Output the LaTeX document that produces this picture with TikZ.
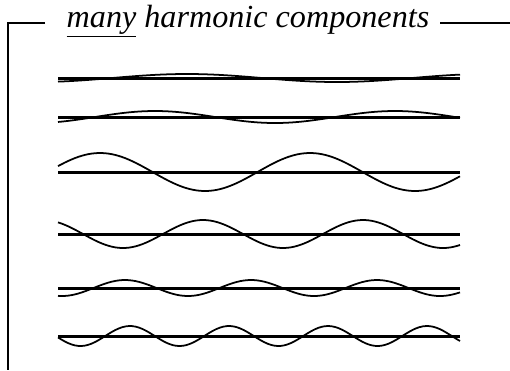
\documentclass[tikz,border=0pt]{standalone}
\usepackage{fontspec}
\setmainfont{Liberation Serif}
\usepackage{tikz}

\begin{document}
\begin{tikzpicture}[
    x=0.02cm, y=-0.02cm,
    title/.style={font=\fontsize{18.3}{22}\selectfont\itshape, inner sep=0pt, anchor=base},
    frame/.style={draw, line width=1.1pt},
    base/.style={draw, line width=1.7pt},
    wave/.style={draw, line width=1.0pt, smooth, samples=120, domain=58:460}
]
    \useasboundingbox (0,0) rectangle (510,370);

    % Top: title with bracket
    \node[title] (title) at (248, 27) {\underline{many} harmonic components};

    \coordinate (tl) at (45, 23);
    \coordinate (tc) at (8, 23);
    \coordinate (bc) at (8, 370);
    \coordinate (tr) at (440, 23);
    \coordinate (te) at (510, 23);

    \draw[frame] (tl) -- (tc) -- (bc);
    \draw[frame] (tr) -- (te);

    % Components, lowest harmonic first
    \draw[base] (58, 78) -- (460, 78);
    \draw[wave] plot (\x, {78 - 4*cos((\x-187)*1.2)});

    \draw[base] (58, 117) -- (460, 117);
    \draw[wave] plot (\x, {117 - 6*cos((\x-155)*1.5)});

    \draw[base] (58, 172) -- (460, 172);
    \draw[wave] plot (\x, {172 - 19*cos((\x-100)*1.714)});

    \draw[base] (58, 234) -- (460, 234);
    \draw[wave] plot (\x, {234 - 14*cos((\x-203)*2.25)});

    \draw[base] (58, 288) -- (460, 288);
    \draw[wave] plot (\x, {288 - 8*cos((\x-125)*2.857)});

    \draw[base] (58, 336) -- (460, 336);
    \draw[wave] plot (\x, {336 - 10*cos((\x-130)*3.636)});

\end{tikzpicture}
\end{document}
